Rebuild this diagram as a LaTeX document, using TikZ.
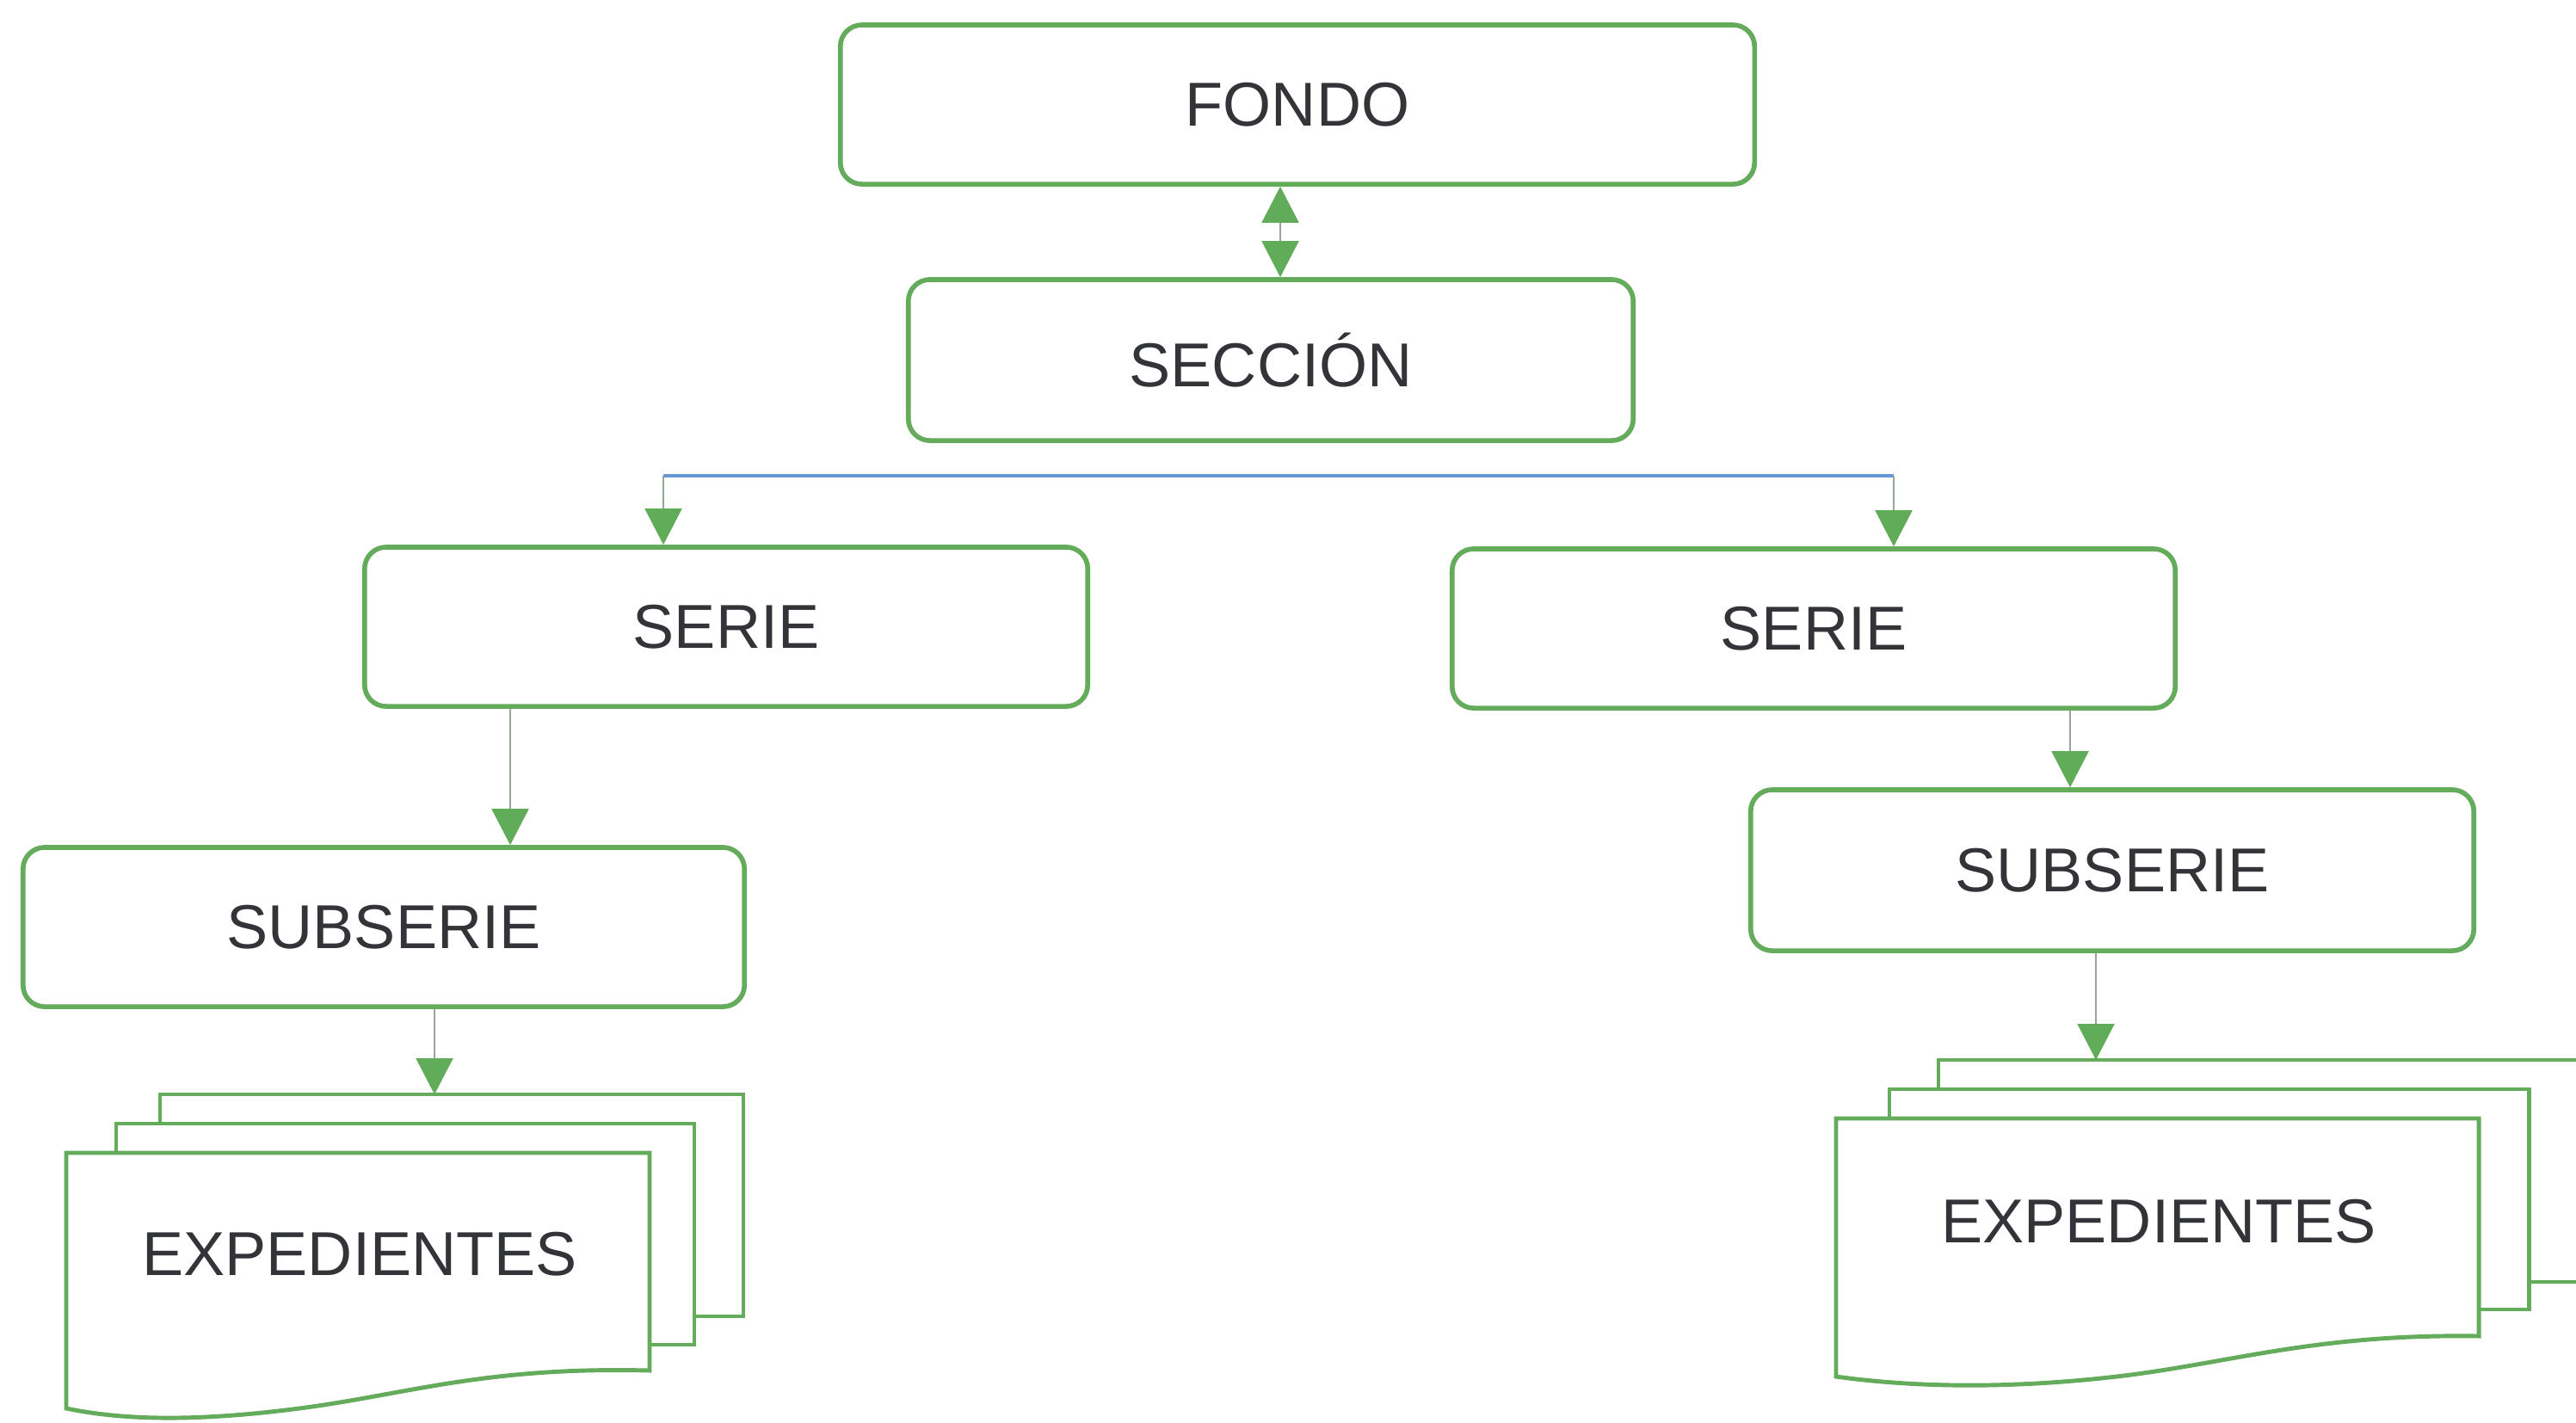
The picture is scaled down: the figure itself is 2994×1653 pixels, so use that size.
\documentclass[tikz,border=0pt]{standalone}
\usepackage{fontspec}
\setmainfont{Liberation Sans}
\usetikzlibrary{arrows.meta}
\definecolor{boxgreen}{RGB}{100,172,92}
\definecolor{tipgreen}{RGB}{96,172,88}
\definecolor{linegray}{RGB}{150,165,150}
\definecolor{busblue}{RGB}{105,150,210}
\definecolor{txt}{RGB}{50,52,56}
\begin{document}
\begin{tikzpicture}[x=0.01cm,y=-0.01cm,
  box/.style={draw=boxgreen, line width=1.6pt, rounded corners=0.25cm, fill=white,
    text=txt, font=\fontsize{20.5}{24}\selectfont, inner sep=0pt},
  page/.style={draw=boxgreen, line width=1.4pt, fill=white},
  lbl/.style={text=txt, font=\fontsize{20.5}{24}\selectfont, inner sep=0pt},
  tipg/.tip={Triangle[color=tipgreen, length=0.42cm, width=0.43cm]},
  conn/.style={draw=linegray, line width=0.6pt, -tipg}]
\useasboundingbox (0,0) rectangle (2994,1653);
\clip (0,0) rectangle (2994,1653);

% boxes
\node[box, minimum width=10.62cm, minimum height=1.85cm] (fondo) at (1508,121.5) {FONDO};
\node[box, minimum width=8.42cm, minimum height=1.87cm] (seccion) at (1477,418.5) {SECCIÓN};
\node[box, minimum width=8.4cm, minimum height=1.85cm] (serieL) at (844,728.5) {SERIE};
\node[box, minimum width=8.4cm, minimum height=1.85cm] (serieR) at (2108,730.5) {SERIE};
\node[box, minimum width=8.38cm, minimum height=1.85cm] (subL) at (446,1077.5) {SUBSERIE};
\node[box, minimum width=8.4cm, minimum height=1.87cm] (subR) at (2455,1011.5) {SUBSERIE};

% left stack of pages
\draw[page] (186,1272) rectangle (864,1530);
\draw[page] (135,1306) rectangle (807,1563);
\draw[page] (77,1340) -- (755,1340) -- (755,1593)
  .. controls (560,1588) and (470,1622) .. (340,1638)
  .. controls (220,1653) and (140,1650) .. (77,1637) -- cycle;
\node[lbl] (expL) at (418,1458) {EXPEDIENTES};

% right stack of pages
\draw[page] (2253,1232) rectangle (3050,1490);
\draw[page] (2196,1266) rectangle (2939,1522);
\draw[page] (2134,1300) -- (2881,1300) -- (2881,1553)
  .. controls (2690,1550) and (2590,1585) .. (2460,1600)
  .. controls (2330,1615) and (2220,1612) .. (2134,1600) -- cycle;
\node[lbl] (expR) at (2509,1420) {EXPEDIENTES};

% connectors
\coordinate (dA) at (1488,0);
\draw[conn, tipg-tipg] (fondo.south -| dA) -- (seccion.north -| dA);

\coordinate (busL) at (771,553);
\coordinate (busR) at (2201,553);
\draw[busblue, line width=1pt] (busL) -- (busR);
\draw[conn] (busL) -- (busL |- serieL.north);
\draw[conn] (busR) -- (busR |- serieR.north);

\coordinate (aL) at (593,0);
\draw[conn] (serieL.south -| aL) -- (subL.north -| aL);
\coordinate (aR) at (2406,0);
\draw[conn] (serieR.south -| aR) -- (subR.north -| aR);

\coordinate (pL) at (505,1272);
\draw[conn] (subL.south -| pL) -- (pL);
\coordinate (pR) at (2436,1232);
\draw[conn] (subR.south -| pR) -- (pR);
\end{tikzpicture}
\end{document}
